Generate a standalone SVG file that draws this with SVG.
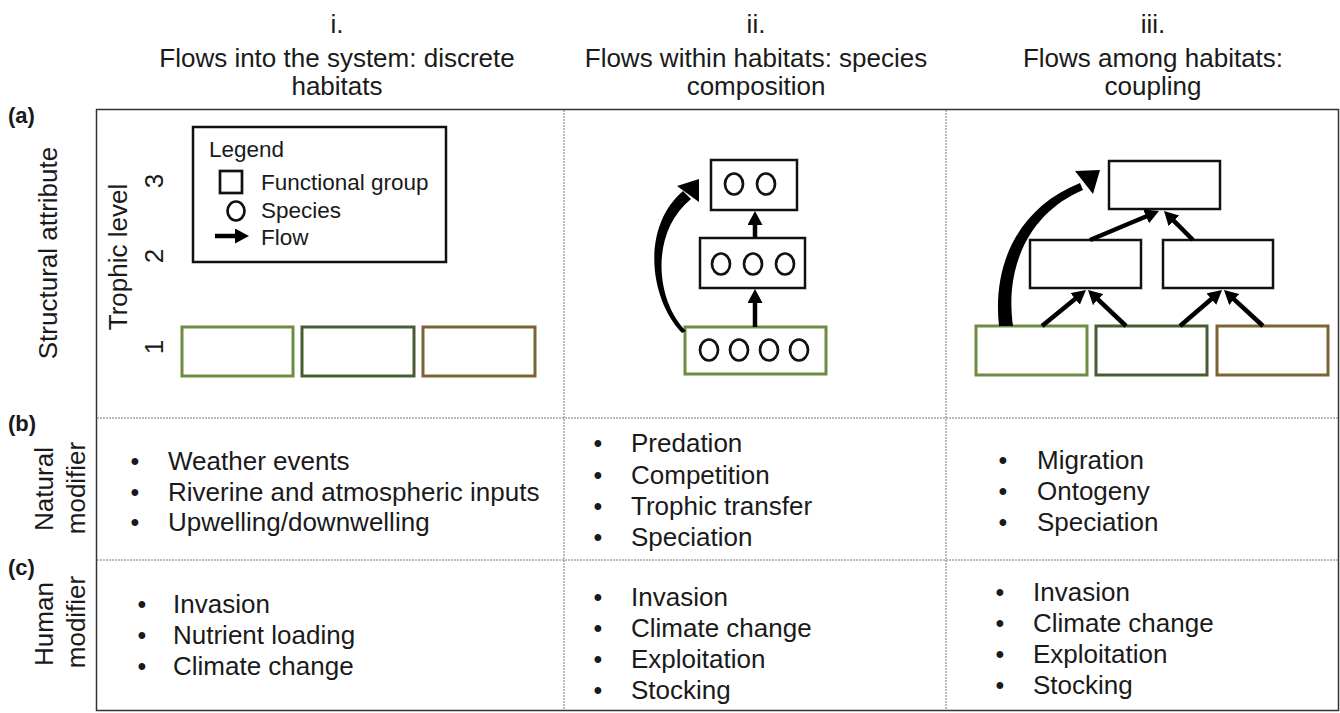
<svg xmlns="http://www.w3.org/2000/svg" width="1340" height="713" viewBox="0 0 1340 713">
<defs>
<style>
text{font-family:"Liberation Sans",Arial,sans-serif;fill:#1a1a1a}
.h{font-size:26px;text-anchor:middle}
.t{font-size:26px}
.b{font-size:25px;text-anchor:middle}
.lbl{font-size:22px;font-weight:bold}
.rot{font-size:26px;text-anchor:middle}
.lg{font-size:22.5px}
.grid{stroke:#7a7a7a;stroke-width:1;stroke-dasharray:2,1;fill:none}
.box{fill:#fff;stroke:#111;stroke-width:2.5}
.hg1{fill:#fff;stroke:#6b8c42;stroke-width:3}
.hg2{fill:#fff;stroke:#485c34;stroke-width:3}
.hbr{fill:#fff;stroke:#7a6434;stroke-width:3}
.sp{fill:none;stroke:#111;stroke-width:2.7}
.flow{stroke:#000;stroke-width:4.5;fill:none;marker-end:url(#ah)}
.big{fill:#000;stroke:none}
</style>
<marker id="ah" viewBox="0 0 14 15" markerWidth="14" markerHeight="15" markerUnits="userSpaceOnUse" refX="5" refY="7.5" orient="auto">
<path d="M0,0 L14,7.5 L0,15 z" fill="#000"/>
</marker>
</defs>
<rect width="1340" height="713" fill="#fff"/>

<g id="table">
<rect x="96.5" y="109.5" width="1242" height="601" fill="none" stroke="#333" stroke-width="1.5"/>
<line class="grid" x1="564" y1="110" x2="564" y2="710"/>
<line class="grid" x1="946" y1="110" x2="946" y2="710"/>
<line class="grid" x1="97" y1="418" x2="1338" y2="418"/>
<line class="grid" x1="97" y1="560" x2="1338" y2="560"/>
</g>

<g id="headers">
<text class="h" x="337" y="33">i.</text>
<text class="h" x="337" y="67">Flows into the system: discrete</text>
<text class="h" x="337" y="95">habitats</text>
<text class="h" x="756" y="33">ii.</text>
<text class="h" x="756" y="67">Flows within habitats: species</text>
<text class="h" x="756" y="95">composition</text>
<text class="h" x="1153" y="33">iii.</text>
<text class="h" x="1153" y="67">Flows among habitats:</text>
<text class="h" x="1153" y="95">coupling</text>
</g>

<g id="row-labels">
<text class="lbl" x="8" y="123">(a)</text>
<text class="lbl" x="8" y="431">(b)</text>
<text class="lbl" x="8" y="575">(c)</text>
<text class="rot" transform="translate(57,253) rotate(-90)">Structural attribute</text>
<text class="rot" transform="translate(53,489) rotate(-90)">Natural</text>
<text class="rot" transform="translate(85,488) rotate(-90)">modifier</text>
<text class="rot" transform="translate(53,624) rotate(-90)">Human</text>
<text class="rot" transform="translate(85,622) rotate(-90)">modifier</text>
</g>

<g id="trophic-axis">
<text class="rot" transform="translate(127,257) rotate(-90)">Trophic level</text>
<text class="rot" transform="translate(163,181) rotate(-90)">3</text>
<text class="rot" transform="translate(163,256) rotate(-90)">2</text>
<text class="rot" transform="translate(163,347) rotate(-90)">1</text>
</g>

<g id="legend">
<rect x="193" y="127" width="253" height="135" fill="#fff" stroke="#111" stroke-width="2.5"/>
<text class="lg" x="209" y="157">Legend</text>
<rect class="sp" x="220" y="171" width="22" height="22"/>
<text class="lg" x="261" y="190">Functional group</text>
<ellipse class="sp" cx="236" cy="211" rx="8.5" ry="9.5"/>
<text class="lg" x="261" y="218">Species</text>
<line class="flow" x1="215" y1="236" x2="240" y2="236"/>
<text class="lg" x="261" y="245">Flow</text>
</g>

<g id="col1-habitats">
<rect id="c1-h1" class="hg1" x="182" y="327" width="111" height="49"/>
<rect id="c1-h2" class="hg2" x="302" y="327" width="112" height="49"/>
<rect id="c1-h3" class="hbr" x="423" y="327" width="112" height="49"/>
</g>

<g id="col2-top">
<rect class="box" x="711" y="160" width="86" height="50"/>
<ellipse class="sp" cx="734" cy="184" rx="9" ry="10.5"/>
<ellipse class="sp" cx="766" cy="184" rx="9" ry="10.5"/>
</g>
<g id="col2-mid">
<rect class="box" x="700" y="238" width="105" height="50"/>
<ellipse class="sp" cx="721" cy="264" rx="9" ry="10.5"/>
<ellipse class="sp" cx="753" cy="264" rx="9" ry="10.5"/>
<ellipse class="sp" cx="785" cy="264" rx="9" ry="10.5"/>
</g>
<g id="col2-bottom">
<rect class="hg1" x="685" y="327" width="141" height="47"/>
<ellipse class="sp" cx="709" cy="350" rx="9" ry="10.5"/>
<ellipse class="sp" cx="739" cy="350" rx="9" ry="10.5"/>
<ellipse class="sp" cx="769" cy="350" rx="9" ry="10.5"/>
<ellipse class="sp" cx="799" cy="350" rx="9" ry="10.5"/>
</g>

<g id="col3-top"><rect class="box" x="1109" y="161" width="111" height="48"/></g>
<g id="col3-midL"><rect class="box" x="1030" y="240" width="111" height="48"/></g>
<g id="col3-midR"><rect class="box" x="1163" y="240" width="110" height="48"/></g>
<g id="col3-habitats">
<rect class="hg1" x="976" y="326" width="111" height="49"/>
<rect class="hg2" x="1096" y="326" width="111" height="49"/>
<rect class="hbr" x="1217" y="326" width="111" height="49"/>
</g>

<g id="connectors">
<line class="flow" x1="755" y1="327" x2="755" y2="298"/>
<line class="flow" x1="755" y1="238" x2="755" y2="220"/>
<path class="big" d="M682,333 C650,300 640,228 683,191 L691,199 C650,232 655,300 686,331 Z"/>
<polygon class="big" points="699,179 699,202 677,186"/>
<line class="flow" x1="1042" y1="326" x2="1079.0" y2="295.7"/>
<line class="flow" x1="1126" y1="326" x2="1094.5" y2="296.2"/>
<line class="flow" x1="1180" y1="326" x2="1215.2" y2="295.8"/>
<line class="flow" x1="1263" y1="326" x2="1230.6" y2="296.1"/>
<line class="flow" x1="1090" y1="240" x2="1150.7" y2="214.5"/>
<line class="flow" x1="1193" y1="240" x2="1170.4" y2="217.4"/>
<path class="big" d="M999,326 C992,262 1020,207 1080,183 L1083,190 C1033,211 1004,262 1013,326 Z"/>
<polygon class="big" points="1100,170 1093,194 1075,171"/>
</g>

<g id="natural-i">
<text class="b" x="135" y="470">•</text><text class="t" x="168" y="470">Weather events</text>
<text class="b" x="135" y="501">•</text><text class="t" x="168" y="501">Riverine and atmospheric inputs</text>
<text class="b" x="135" y="531">•</text><text class="t" x="168" y="531">Upwelling/downwelling</text>
</g>
<g id="natural-ii">
<text class="b" x="598" y="452">•</text><text class="t" x="631" y="452">Predation</text>
<text class="b" x="598" y="484">•</text><text class="t" x="631" y="484">Competition</text>
<text class="b" x="598" y="515">•</text><text class="t" x="631" y="515">Trophic transfer</text>
<text class="b" x="598" y="546">•</text><text class="t" x="631" y="546">Speciation</text>
</g>
<g id="natural-iii">
<text class="b" x="1003" y="469">•</text><text class="t" x="1037" y="469">Migration</text>
<text class="b" x="1003" y="500">•</text><text class="t" x="1037" y="500">Ontogeny</text>
<text class="b" x="1003" y="531">•</text><text class="t" x="1037" y="531">Speciation</text>
</g>
<g id="human-i">
<text class="b" x="142" y="613">•</text><text class="t" x="173" y="613">Invasion</text>
<text class="b" x="142" y="644">•</text><text class="t" x="173" y="644">Nutrient loading</text>
<text class="b" x="142" y="675">•</text><text class="t" x="173" y="675">Climate change</text>
</g>
<g id="human-ii">
<text class="b" x="598" y="606">•</text><text class="t" x="631" y="606">Invasion</text>
<text class="b" x="598" y="637">•</text><text class="t" x="631" y="637">Climate change</text>
<text class="b" x="598" y="668">•</text><text class="t" x="631" y="668">Exploitation</text>
<text class="b" x="598" y="699">•</text><text class="t" x="631" y="699">Stocking</text>
</g>
<g id="human-iii">
<text class="b" x="1000" y="601">•</text><text class="t" x="1033" y="601">Invasion</text>
<text class="b" x="1000" y="632">•</text><text class="t" x="1033" y="632">Climate change</text>
<text class="b" x="1000" y="663">•</text><text class="t" x="1033" y="663">Exploitation</text>
<text class="b" x="1000" y="694">•</text><text class="t" x="1033" y="694">Stocking</text>
</g>
</svg>
